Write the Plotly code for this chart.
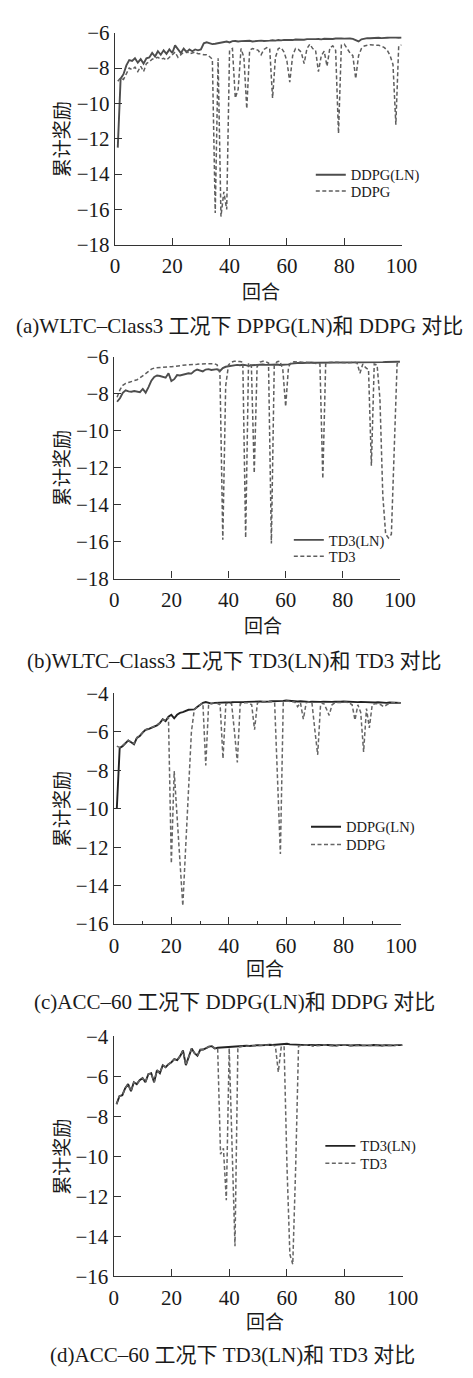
import plotly.graph_objects as go

# ---------------- data ----------------
EP = list(range(1, 101))

# (a) WLTC-Class3, DDPG(LN) vs DDPG
A_LN = [-12.5, -8.6, -8.35, -7.85, -7.55, -7.6, -7.45, -7.7, -7.5, -7.75,
        -7.45, -7.4, -7.15, -7.35, -7.05, -7.25, -7.0, -7.2, -6.95, -7.15,
        -6.72, -6.95, -7.15, -6.9, -7.1, -6.95, -7.05, -6.95, -7.0, -6.95,
        -6.6, -6.55, -6.62, -6.65, -6.63, -6.6, -6.55, -6.52, -6.5, -6.55,
        -6.48, -6.47, -6.5, -6.48, -6.47, -6.49, -6.46, -6.5, -6.48, -6.46,
        -6.45, -6.47, -6.44, -6.45, -6.43, -6.45, -6.42, -6.44, -6.41, -6.42,
        -6.4, -6.42, -6.39, -6.4, -6.38, -6.4, -6.37, -6.38, -6.36, -6.37,
        -6.36, -6.38, -6.35, -6.36, -6.34, -6.36, -6.33, -6.35, -6.33, -6.34,
        -6.32, -6.33, -6.35, -6.42, -6.5, -6.38, -6.33, -6.31, -6.32, -6.3,
        -6.3, -6.29, -6.31, -6.28, -6.29, -6.28, -6.3, -6.28, -6.29, -6.28]
A_BASE = [-8.75, -8.55, -8.65, -8.3, -8.0, -8.1, -7.95, -8.2, -7.9, -8.2,
          -7.75, -7.65, -7.5, -7.45, -7.4, -7.5, -7.45, -7.55, -7.4, -7.25,
          -7.1, -7.4, -7.25, -7.1, -7.05, -7.2, -7.15, -7.1, -7.2, -7.2,
          -7.25, -7.25, -7.35, -7.5, -16.2, -7.45, -16.4, -15.0, -16.0, -7.0,
          -6.9, -9.7, -9.2, -6.9, -7.4, -10.3, -7.0, -6.9, -6.95, -7.0,
          -7.25, -6.95, -6.85, -6.9, -9.7, -7.4, -6.9, -6.85, -7.1, -7.6,
          -8.8, -7.3, -6.9, -6.95, -7.1, -7.75, -6.9, -6.65, -6.9, -7.0,
          -8.2, -7.3, -7.05, -7.9, -6.85, -6.75, -7.0, -11.7, -6.7, -6.65,
          -6.9, -7.15, -7.3, -8.6, -7.3, -6.9, -6.75, -6.7, -6.68, -6.7,
          -6.7, -6.72, -6.75, -6.85, -7.0, -7.3, -7.8, -11.2, -6.75, -6.7]

# (b) WLTC-Class3, TD3(LN) vs TD3
B_LN = [-8.44, -8.25, -7.96, -7.82, -7.88, -7.9, -7.86, -7.88, -7.92, -7.75,
        -7.95, -7.65, -7.3, -7.1, -7.02, -7.05, -7.1, -7.14, -6.9, -7.32,
        -7.22, -7.0, -7.02, -6.98, -6.92, -6.9, -6.92, -6.78, -6.7, -6.76,
        -6.8, -6.7, -6.68, -6.72, -6.7, -6.68, -6.78, -6.62, -6.55, -6.52,
        -6.5, -6.47, -6.45, -6.47, -6.44, -6.46, -6.5, -6.47, -6.45, -6.44,
        -6.45, -6.43, -6.45, -6.44, -6.46, -6.44, -6.43, -6.45, -6.44, -6.46,
        -6.42, -6.38, -6.35, -6.34, -6.33, -6.35, -6.33, -6.34, -6.32, -6.33,
        -6.33, -6.34, -6.32, -6.33, -6.34, -6.32, -6.33, -6.32, -6.34, -6.33,
        -6.33, -6.34, -6.32, -6.33, -6.34, -6.32, -6.3, -6.32, -6.33, -6.31,
        -6.32, -6.3, -6.31, -6.3, -6.29, -6.28, -6.3, -6.29, -6.28, -6.28]
B_BASE = [-8.2, -7.8, -7.55, -7.45, -7.4, -7.35, -7.32, -7.25, -7.15, -7.05,
          -6.92, -6.8, -6.68, -6.62, -6.6, -6.58, -6.58, -6.56, -6.55, -6.55,
          -6.52, -6.5, -6.5, -6.47, -6.45, -6.45, -6.43, -6.42, -6.42, -6.4,
          -6.4, -6.38, -6.37, -6.37, -6.38, -6.45, -6.9, -15.9, -7.6, -6.45,
          -6.3, -6.25, -6.25, -6.27, -6.3, -15.8, -6.35, -6.5, -12.3, -6.55,
          -6.3, -6.25, -6.27, -6.35, -16.1, -6.5, -6.28, -6.25, -6.7, -8.7,
          -6.55, -6.3, -6.28, -6.3, -6.28, -6.3, -6.3, -6.32, -6.3, -6.32,
          -6.35, -6.4, -12.6, -6.4, -6.32, -6.3, -6.32, -6.3, -6.32, -6.33,
          -6.32, -6.33, -6.32, -6.3, -6.35, -6.9, -6.4, -6.6, -6.7, -11.9,
          -6.4, -6.45, -8.3, -13.5, -15.6, -15.8, -15.6, -11.0, -6.4, -6.3]

# (c) ACC-60, DDPG(LN) vs DDPG
C_LN = [-10.0, -6.85, -6.75, -6.6, -6.45, -6.55, -6.65, -6.32, -6.22, -6.05,
        -5.9, -5.86, -5.8, -5.72, -5.67, -5.55, -5.35, -5.45, -5.22, -5.12,
        -5.3, -5.12, -5.02, -4.98, -4.92, -4.86, -4.85, -4.84, -4.72, -4.6,
        -4.5, -4.46, -4.52, -4.54, -4.5, -4.5, -4.49, -4.48, -4.49, -4.47,
        -4.47, -4.46, -4.47, -4.45, -4.46, -4.45, -4.44, -4.45, -4.44, -4.43,
        -4.43, -4.44, -4.42, -4.43, -4.42, -4.42, -4.41, -4.4, -4.4, -4.38,
        -4.4, -4.41, -4.42, -4.43, -4.42, -4.44, -4.43, -4.45, -4.44, -4.45,
        -4.44, -4.45, -4.44, -4.45, -4.46, -4.45, -4.44, -4.45, -4.44, -4.43,
        -4.44, -4.45, -4.44, -4.45, -4.46, -4.45, -4.46, -4.47, -4.46, -4.47,
        -4.48, -4.47, -4.49, -4.48, -4.5, -4.48, -4.49, -4.48, -4.5, -4.5]
C_BASE = [-6.75, -6.82, -6.72, -6.58, -6.45, -6.55, -6.62, -6.3, -6.2, -6.05,
          -5.9, -5.85, -5.8, -5.72, -5.66, -5.55, -5.38, -5.42, -5.25, -12.85,
          -8.05, -10.4, -12.7, -15.05, -12.0, -9.0, -6.0, -4.85, -4.72, -4.6,
          -4.52, -7.75, -4.55, -4.52, -4.5, -4.52, -4.6, -7.4, -4.55, -4.5,
          -4.55, -6.0, -7.6, -4.55, -4.5, -4.48, -4.5, -4.6, -5.9, -4.5,
          -4.45, -4.44, -4.44, -4.43, -4.44, -4.5, -8.4, -12.35, -4.5, -4.4,
          -4.42, -4.42, -4.45, -4.7, -4.5, -5.35, -4.5, -4.45, -4.5, -5.9,
          -7.2, -4.6, -4.5, -4.8, -5.15, -4.6, -4.5, -4.48, -4.47, -4.46,
          -4.47, -4.5, -4.6, -5.4, -4.6, -5.0, -7.05, -4.8, -5.8, -4.6,
          -4.55, -4.55, -4.6, -4.7, -4.6, -4.52, -4.5, -4.5, -4.5, -4.5]

# (d) ACC-60, TD3(LN) vs TD3
D_LN = [-7.4, -7.0, -6.95, -6.6, -6.4, -6.75, -6.3, -6.4, -6.2, -6.1,
        -6.3, -5.9, -5.85, -6.3, -5.7, -5.85, -5.45, -5.55, -5.4, -5.3,
        -5.15, -5.2, -5.0, -4.72, -5.45, -5.05, -4.62, -4.85, -4.98, -4.68,
        -4.67, -4.6, -4.52, -4.5, -4.62, -4.58, -4.57, -4.56, -4.55, -4.52,
        -4.53, -4.5, -4.51, -4.49, -4.5, -4.48, -4.49, -4.47, -4.46, -4.45,
        -4.46, -4.44, -4.45, -4.43, -4.44, -4.43, -4.42, -4.42, -4.38, -4.38,
        -4.41, -4.42, -4.43, -4.44, -4.45, -4.43, -4.45, -4.44, -4.46, -4.45,
        -4.44, -4.46, -4.45, -4.44, -4.46, -4.45, -4.47, -4.45, -4.44, -4.46,
        -4.45, -4.47, -4.45, -4.46, -4.44, -4.46, -4.47, -4.45, -4.46, -4.44,
        -4.46, -4.45, -4.47, -4.45, -4.46, -4.44, -4.46, -4.45, -4.44, -4.45]
D_BASE = [-7.4, -7.0, -6.95, -6.6, -6.4, -6.75, -6.3, -6.4, -6.2, -6.1,
          -6.3, -5.9, -5.85, -6.3, -5.7, -5.85, -5.45, -5.55, -5.4, -5.3,
          -5.15, -5.2, -5.0, -4.72, -5.45, -5.05, -4.62, -4.85, -4.98, -4.68,
          -4.67, -4.6, -4.52, -4.5, -4.6, -4.6, -9.9, -9.6, -12.2, -4.6,
          -9.5, -14.5, -4.55, -4.52, -4.5, -4.5, -4.49, -4.48, -4.47, -4.46,
          -4.47, -4.45, -4.46, -4.44, -4.45, -4.5, -5.8, -4.55, -4.5, -10.5,
          -14.9, -15.4, -10.6, -4.5, -4.45, -4.44, -4.46, -4.45, -4.5, -4.48,
          -4.46, -4.47, -4.45, -4.46, -4.47, -4.46, -4.48, -4.46, -4.45, -4.47,
          -4.46, -4.48, -4.46, -4.47, -4.45, -4.47, -4.48, -4.46, -4.47, -4.45,
          -4.47, -4.46, -4.48, -4.46, -4.47, -4.45, -4.47, -4.46, -4.45, -4.46]

X_TICKS = [0, 20, 40, 60, 80, 100]
Y_TICKS_WLTC = [-18, -16, -14, -12, -10, -8, -6]
Y_TICKS_ACC = [-16, -14, -12, -10, -8, -6, -4]

CAPTIONS = ["(a)WLTC–Class3 工况下 DPPG(LN)和 DDPG 对比",
            "(b)WLTC–Class3 工况下 TD3(LN)和 TD3 对比",
            "(c)ACC–60 工况下 DDPG(LN)和 DDPG 对比",
            "(d)ACC–60 工况下 TD3(LN)和 TD3 对比"]
NAMES = [("DDPG(LN)", "DDPG"), ("TD3(LN)", "TD3"), ("DDPG(LN)", "DDPG"), ("TD3(LN)", "TD3")]
X_TITLE = "回合"
Y_TITLE = "累计奖励"

# ---------------- layout geometry (pixels) ----------------
W, H = 473, 1378
SERIF = "Liberation Serif, Times New Roman, serif"
MIXED = "Liberation Serif, Noto Sans CJK SC, serif"
CJK = "Noto Sans CJK SC, sans-serif"

panels = [
    dict(ln=A_LN, base=A_BASE, xpx=(115, 415), ypx=(21, 237), yr=[-18, -6], yt=Y_TICKS_WLTC,
         leg=(318, 165.7, 182.3), cap=(245, 320), xt=(268, 283), col_ln="#4d4d4d", col_b="#5e5e5e", minor=False),
    dict(ln=B_LN, base=B_BASE, xpx=(114.3, 413.3), ypx=(350.7, 576.7), yr=[-18, -6], yt=Y_TICKS_WLTC,
         leg=(295, 537.3, 554), cap=(240, 660), xt=(270, 623), col_ln="#4d4d4d", col_b="#5e5e5e", minor=False),
    dict(ln=C_LN, base=C_BASE, xpx=(114, 414.3), ypx=(693.3, 928.3), yr=[-16, -4], yt=Y_TICKS_ACC,
         leg=(313, 829.3, 847.3), cap=(240, 1008), xt=(272, 972), col_ln="#222222", col_b="#666666", minor=True),
    dict(ln=D_LN, base=D_BASE, xpx=(113.7, 416), ypx=(1042.3, 1286.7), yr=[-16, -4], yt=Y_TICKS_ACC,
         leg=(328, 1154, 1171.7), cap=(238, 1367), xt=(272, 1332), col_ln="#222222", col_b="#666666", minor=False),
]

fig = go.Figure()
annotations = []
axis_col = "#333333"
TICKFONT = dict(family=SERIF, size=21, color="#1a1a1a")

for i, p in enumerate(panels):
    n = "" if i == 0 else str(i + 1)
    xa, ya = f"x{n}", f"y{n}"
    leg1 = "legend" if i == 0 else f"legend{2 * i + 1}"
    leg2 = f"legend{2 * i + 2}"
    fig.add_trace(go.Scatter(x=EP, y=p["ln"], mode="lines", name=NAMES[i][0],
                             line=dict(color=p["col_ln"], width=1.9),
                             xaxis=xa, yaxis=ya, legend=leg1))
    fig.add_trace(go.Scatter(x=EP, y=p["base"], mode="lines", name=NAMES[i][1],
                             line=dict(color=p["col_b"], width=1.5, dash="4px,2.5px"),
                             xaxis=xa, yaxis=ya, legend=leg2))
    x0, x1 = p["xpx"]
    yt, yb = p["ypx"]
    xdict = dict(domain=[x0 / W, x1 / W], range=[0, 100], tickvals=X_TICKS,
                 ticks="inside", ticklen=7, tickwidth=1.2, tickcolor=axis_col,
                 showline=True, linecolor=axis_col, linewidth=1.4, showgrid=False, zeroline=False,
                 tickfont=TICKFONT, anchor=ya, fixedrange=True, ticklabelstandoff=2)
    if p["minor"]:
        xdict["minor"] = dict(tickvals=[10, 30, 50, 70, 90], ticks="inside", ticklen=3,
                              tickwidth=1, tickcolor=axis_col, showgrid=False)
    ydict = dict(domain=[1 - yb / H, 1 - yt / H], range=p["yr"], tickvals=p["yt"],
                 ticks="inside", ticklen=7, tickwidth=1.2, tickcolor=axis_col,
                 showline=True, linecolor=axis_col, linewidth=1.4, showgrid=False, zeroline=False,
                 tickfont=TICKFONT, anchor=xa, fixedrange=True)
    fig.update_layout(**{f"xaxis{n}": xdict, f"yaxis{n}": ydict})
    lx, r1, r2 = p["leg"]
    for lg, ry in ((leg1, r1), (leg2, r2)):
        fig.update_layout(**{lg: dict(x=(lx + 2) / W, y=1 - ry / H, xanchor="left", yanchor="middle",
                                      bgcolor="rgba(0,0,0,0)", borderwidth=0,
                                      font=dict(family=SERIF, size=14.5, color="#1a1a1a"),
                                      itemwidth=30)})
    cx, cy = p["cap"]
    annotations.append(dict(text=CAPTIONS[i], x=cx / W, y=1 - cy / H, xref="paper", yref="paper",
                            showarrow=False, xanchor="center", yanchor="middle",
                            font=dict(family=MIXED, size=21, color="#1a1a1a")))
    tx, ty = p["xt"]
    annotations.append(dict(text=X_TITLE, x=tx / W, y=1 - ty / H, xref="paper", yref="paper",
                            showarrow=False, xanchor="center", yanchor="middle",
                            font=dict(family=CJK, size=19, color="#1a1a1a")))
    annotations.append(dict(text=Y_TITLE, x=58 / W, y=1 - (yt + yb) / 2 / H, xref="paper", yref="paper",
                            showarrow=False, xanchor="center", yanchor="middle", textangle=-90,
                            font=dict(family=CJK, size=19, color="#1a1a1a")))

fig.update_layout(width=W, height=H, margin=dict(l=0, r=0, t=0, b=0),
                  paper_bgcolor="white", plot_bgcolor="white", showlegend=True,
                  annotations=annotations)

fig.write_html("out.html", config={"displayModeBar": False})
